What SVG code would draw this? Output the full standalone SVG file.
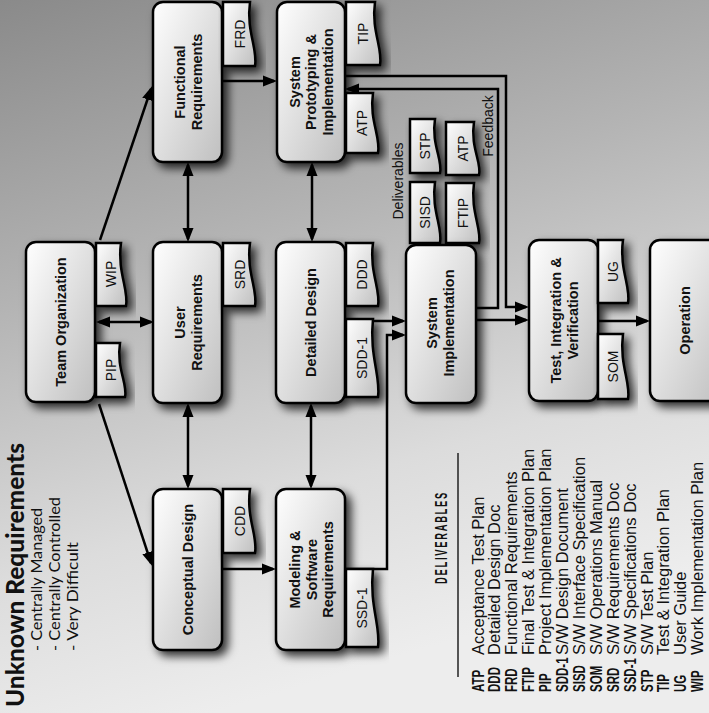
<svg xmlns="http://www.w3.org/2000/svg" width="709" height="713" viewBox="0 0 709 713">
<defs>
<linearGradient id="bg" x1="0" y1="0" x2="0.3" y2="1">
<stop offset="0" stop-color="#8a8a8a"/>
<stop offset="0.4" stop-color="#b4b4b4"/>
<stop offset="0.75" stop-color="#dcdcdc"/>
<stop offset="1" stop-color="#ededed"/>
</linearGradient>
<linearGradient id="box" x1="0" y1="0" x2="1" y2="1">
<stop offset="0" stop-color="#ffffff"/>
<stop offset="1" stop-color="#bfbfbf"/>
</linearGradient>
<filter id="sh" x="-30%" y="-30%" width="160%" height="160%">
<feGaussianBlur in="SourceAlpha" stdDeviation="5"/>
<feOffset dx="5" dy="5" result="b"/>
<feFlood flood-color="#000" flood-opacity="0.8"/>
<feComposite in2="b" operator="in"/>
<feMerge><feMergeNode/><feMergeNode in="SourceGraphic"/></feMerge>
</filter>
<marker id="ah" markerUnits="userSpaceOnUse" markerWidth="14" markerHeight="12" refX="11" refY="5.5" orient="auto-start-reverse" viewBox="0 0 14 11">
<path d="M0,0 L14,5.5 L0,11 z" fill="#000"/>
</marker>
<style>
.node{fill:url(#box);stroke:#000;stroke-width:2.5;filter:url(#sh)}
.doc{fill:url(#box);stroke:#000;stroke-width:2.5;filter:url(#sh)}
.lbl{font-family:'Liberation Sans',Arial,sans-serif;font-weight:bold;font-size:14.5px;fill:#111;text-anchor:middle}
.dt{font-family:'Liberation Sans',Arial,sans-serif;font-size:14px;fill:#111;text-anchor:middle}
.ln{fill:none;stroke:#000;stroke-width:2.5}
.arr{marker-end:url(#ah)}
.dbl{marker-start:url(#ah);marker-end:url(#ah)}
.leg{font-family:'Liberation Sans',Arial,sans-serif;font-size:16.5px;fill:#111}
.abbr{font-family:'Liberation Sans',Arial,sans-serif;font-weight:bold;font-size:16px;fill:#111}
.ttl{font-family:Lato,'Open Sans',sans-serif;fill:#111}
</style>
</defs>
<rect x="0" y="0" width="709" height="713" fill="url(#bg)"/>

<g id="title">
<text class="ttl" font-weight="900" font-size="24" transform="translate(24,707) rotate(-90)" textLength="264" lengthAdjust="spacingAndGlyphs">Unknown Requirements</text>
<text class="ttl" font-size="15" transform="translate(42,651) rotate(-90)" textLength="143" lengthAdjust="spacingAndGlyphs">- Centrally Managed</text>
<text class="ttl" font-size="15" transform="translate(60,651) rotate(-90)" textLength="154" lengthAdjust="spacingAndGlyphs">- Centrally Controlled</text>
<text class="ttl" font-size="15" transform="translate(78,651) rotate(-90)" textLength="109" lengthAdjust="spacingAndGlyphs">- Very Difficult</text>
</g>

<g id="connectors">
<line class="ln arr" x1="100" y1="240" x2="151" y2="89"/>
<line class="ln arr" x1="99" y1="404" x2="151" y2="563"/>
<line class="ln dbl" x1="99" y1="322" x2="151" y2="322"/>
<line class="ln dbl" x1="188" y1="165" x2="188" y2="239"/>
<line class="ln dbl" x1="188" y1="406" x2="188" y2="486"/>
<line class="ln dbl" x1="312" y1="165" x2="312" y2="239"/>
<line class="ln dbl" x1="311" y1="406" x2="311" y2="486"/>
<line class="ln arr" x1="222" y1="81" x2="274" y2="81"/>
<line class="ln arr" x1="222" y1="569" x2="273" y2="569"/>
<line class="ln arr" x1="345" y1="321" x2="403" y2="321"/>
<polyline class="ln arr" points="345,569 387,569 387,335 403,335"/>
<polyline class="ln arr" points="345,76 506,76 506,307 526,307"/>
<polyline class="ln arr" points="476,308 498,308 498,89 348,89"/>
<line class="ln arr" x1="476" y1="320" x2="526" y2="320"/>
<line class="ln arr" x1="598" y1="321" x2="647" y2="321"/>
<text class="dt" font-size="15" transform="translate(493,126) rotate(-90)">Feedback</text>
<text class="dt" font-size="17" transform="translate(403,181) rotate(-90)">Deliverables</text>
</g>

<g id="team-organization">
<rect class="node" x="26" y="242" width="69" height="160" rx="10"/>
<text class="lbl" transform="translate(66,322) rotate(-90)">Team Organization</text>
<path class="doc" d="M96,243 H121 C117,272 129,290 126,306 H96 Z"/>
<text class="dt" transform="translate(116,274) rotate(-90)">WIP</text>
<path class="doc" d="M96,343 H120 C116,368 128,384 125,397 H96 Z"/>
<text class="dt" transform="translate(116,370) rotate(-90)">PIP</text>
</g>

<g id="functional-requirements">
<rect class="node" x="153" y="2" width="69" height="160" rx="10"/>
<text class="lbl" transform="translate(184.5,82) rotate(-90)"><tspan x="0" y="0">Functional</tspan><tspan x="0" y="17">Requirements</tspan></text>
<path class="doc" d="M223,2 H250 C246,31 258,49 255,66 H223 Z"/>
<text class="dt" transform="translate(244.5,34) rotate(-90)">FRD</text>
</g>

<g id="system-prototyping">
<rect class="node" x="277" y="2" width="68" height="160" rx="10"/>
<text class="lbl" transform="translate(299.5,82) rotate(-90)"><tspan x="0" y="0">System</tspan><tspan x="0" y="16.5">Prototyping &amp;</tspan><tspan x="0" y="33">Implementation</tspan></text>
<path class="doc" d="M346,2 H375 C371,31 383,48 380,65 H346 Z"/>
<text class="dt" transform="translate(368,33.5) rotate(-90)">TIP</text>
<path class="doc" d="M346,93 H373 C369,120 381,137 378,153 H346 Z"/>
<text class="dt" transform="translate(367,123) rotate(-90)">ATP</text>
</g>

<g id="user-requirements">
<rect class="node" x="153" y="242" width="69" height="161" rx="10"/>
<text class="lbl" transform="translate(184.5,322.5) rotate(-90)"><tspan x="0" y="0">User</tspan><tspan x="0" y="17">Requirements</tspan></text>
<path class="doc" d="M223,243 H250 C246,272 258,290 255,306 H223 Z"/>
<text class="dt" transform="translate(244.5,274.5) rotate(-90)">SRD</text>
</g>

<g id="detailed-design">
<rect class="node" x="276" y="242" width="69" height="161" rx="10"/>
<text class="lbl" transform="translate(316,322.5) rotate(-90)">Detailed Design</text>
<path class="doc" d="M346,243 H373 C369,272 381,290 378,306 H346 Z"/>
<text class="dt" transform="translate(367,274.5) rotate(-90)">DDD</text>
<path class="doc" d="M346,319 H373 C369,355 381,377 378,397 H346 Z"/>
<text class="dt" transform="translate(367,358) rotate(-90)">SDD-1</text>
</g>

<g id="conceptual-design">
<rect class="node" x="153" y="489" width="69" height="161" rx="10"/>
<text class="lbl" transform="translate(193,569.5) rotate(-90)">Conceptual Design</text>
<path class="doc" d="M223,489 H250 C246,518 258,536 255,553 H223 Z"/>
<text class="dt" transform="translate(244.5,521) rotate(-90)">CDD</text>
</g>

<g id="modeling-software-requirements">
<rect class="node" x="276" y="489" width="69" height="161" rx="10"/>
<text class="lbl" transform="translate(300,569.5) rotate(-90)"><tspan x="0" y="0">Modeling &amp;</tspan><tspan x="0" y="16.5">Software</tspan><tspan x="0" y="33">Requirements</tspan></text>
<path class="doc" d="M346,569 H373 C369,605 381,627 378,647 H346 Z"/>
<text class="dt" transform="translate(367,608) rotate(-90)">SSD-1</text>
</g>

<g id="deliverables">
<path class="doc" d="M410,119 H435 C431,144 443,160 440,173 H410 Z"/>
<text class="dt" transform="translate(430,146) rotate(-90)">STP</text>
<path class="doc" d="M410,182 H435 C431,210 443,228 440,243 H410 Z"/>
<text class="dt" transform="translate(430,212.5) rotate(-90)">SISD</text>
<path class="doc" d="M446,122 H474 C470,147 482,163 479,175 H446 Z"/>
<text class="dt" transform="translate(467.5,148.5) rotate(-90)">ATP</text>
<path class="doc" d="M446,183 H474 C470,211 482,229 479,243 H446 Z"/>
<text class="dt" transform="translate(467.5,213) rotate(-90)">FTIP</text>
</g>

<g id="system-implementation">
<rect class="node" x="406" y="245" width="70" height="158" rx="10"/>
<text class="lbl" transform="translate(437,323) rotate(-90)"><tspan x="0" y="0">System</tspan><tspan x="0" y="17">Implementation</tspan></text>
</g>

<g id="test-integration-verification">
<rect class="node" x="529" y="240" width="69" height="161" rx="10"/>
<text class="lbl" transform="translate(561,320.5) rotate(-90)"><tspan x="0" y="0">Test, Integration &amp;</tspan><tspan x="0" y="17">Verification</tspan></text>
<path class="doc" d="M598,240 H623 C619,269 631,287 628,303 H598 Z"/>
<text class="dt" transform="translate(618,271.5) rotate(-90)">UG</text>
<path class="doc" d="M598,334 H623 C619,364 631,383 628,399 H598 Z"/>
<text class="dt" transform="translate(618,366.5) rotate(-90)">SOM</text>
</g>

<g id="operation">
<rect class="node" x="650" y="240" width="75" height="161" rx="10"/>
<text class="lbl" transform="translate(690,320.5) rotate(-90)">Operation</text>
</g>

<g id="legend">
<text class="abbr" font-size="15" letter-spacing="3" transform="translate(447,584) rotate(-90)" textLength="93" lengthAdjust="spacingAndGlyphs">DELIVERABLES</text>
<line x1="458" y1="453" x2="458" y2="677" stroke="#222" stroke-width="1.5"/>
<g transform="translate(0,692) scale(1,0.72) translate(0,-692)">
<text class="abbr" transform="translate(483.5,692) rotate(-90)">ATP</text>
<text class="abbr" transform="translate(500.4,692) rotate(-90)">DDD</text>
<text class="abbr" transform="translate(517.3,692) rotate(-90)">FRD</text>
<text class="abbr" transform="translate(534.2,692) rotate(-90)">FTIP</text>
<text class="abbr" transform="translate(551.1,692) rotate(-90)">PIP</text>
<text class="abbr" transform="translate(568,692) rotate(-90)">SDD-1</text>
<text class="abbr" transform="translate(584.9,692) rotate(-90)">SISD</text>
<text class="abbr" transform="translate(601.8,692) rotate(-90)">SOM</text>
<text class="abbr" transform="translate(618.7,692) rotate(-90)">SRD</text>
<text class="abbr" transform="translate(635.6,692) rotate(-90)">SSD-1</text>
<text class="abbr" transform="translate(652.5,692) rotate(-90)">STP</text>
<text class="abbr" transform="translate(669.4,692) rotate(-90)">TIP</text>
<text class="abbr" transform="translate(686.3,692) rotate(-90)">UG</text>
<text class="abbr" transform="translate(703.2,692) rotate(-90)">WIP</text>
</g>
<text class="leg" transform="translate(483.5,655) rotate(-90)">Acceptance Test Plan</text>
<text class="leg" transform="translate(500.4,655) rotate(-90)">Detailed Design Doc</text>
<text class="leg" transform="translate(517.3,655) rotate(-90)">Functional Requirements</text>
<text class="leg" transform="translate(534.2,655) rotate(-90)">Final Test &amp; Integration Plan</text>
<text class="leg" transform="translate(551.1,655) rotate(-90)">Project Implementation Plan</text>
<text class="leg" transform="translate(568,655) rotate(-90)">S/W Design Document</text>
<text class="leg" transform="translate(584.9,655) rotate(-90)">S/W Interface Specification</text>
<text class="leg" transform="translate(601.8,655) rotate(-90)">S/W Operations Manual</text>
<text class="leg" transform="translate(618.7,655) rotate(-90)">S/W Requirements Doc</text>
<text class="leg" transform="translate(635.6,655) rotate(-90)">S/W Specifications Doc</text>
<text class="leg" transform="translate(652.5,655) rotate(-90)">S/W Test Plan</text>
<text class="leg" transform="translate(669.4,655) rotate(-90)">Test &amp; Integration Plan</text>
<text class="leg" transform="translate(686.3,655) rotate(-90)">User Guide</text>
<text class="leg" transform="translate(703.2,655) rotate(-90)">Work Implementation Plan</text>
</g>
</svg>
